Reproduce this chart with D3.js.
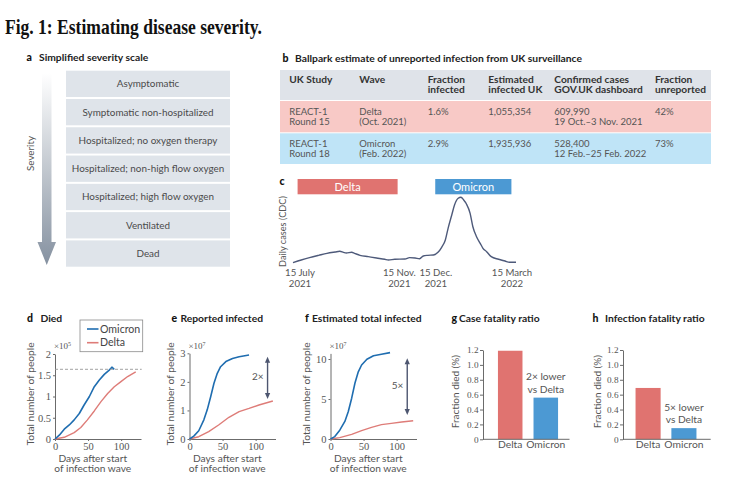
<!DOCTYPE html>
<html><head><meta charset="utf-8">
<script src="https://cdn.jsdelivr.net/npm/d3@7"></script>
<style>
body{margin:0;background:#fff}
svg{display:block}
text{font-family:Lato,"Open Sans",sans-serif}
</style></head>
<body><svg id="fig" width="742" height="487"></svg>
<script>
// ---------------- DATA ----------------
const severityLevels = ["Asymptomatic","Symptomatic non-hospitalized","Hospitalized; no oxygen therapy","Hospitalized; non-high flow oxygen","Hospitalized; high flow oxygen","Ventilated","Dead"];

const tableHeaders = [["UK Study"],["Wave"],["Fraction","infected"],["Estimated","infected UK"],["Confirmed cases","GOV.UK dashboard"],["Fraction","unreported"]];
const tableDelta   = [["REACT-1","Round 15"],["Delta","(Oct. 2021)"],["1.6%"],["1,055,354"],["609,990","19 Oct.–3 Nov. 2021"],["42%"]];
const tableOmicron = [["REACT-1","Round 18"],["Omicron","(Feb. 2022)"],["2.9%"],["1,935,936"],["528,400","12 Feb.–25 Feb. 2022"],["73%"]];

// panel c: US daily cases (thousands, 7-day avg, CDC)
const casesDates = ["2021-07-15","2021-07-24","2021-08-02","2021-08-12","2021-08-21","2021-08-30","2021-09-04","2021-09-08","2021-09-11","2021-09-17","2021-09-20","2021-09-26","2021-10-05","2021-10-14","2021-10-23","2021-10-27","2021-11-03","2021-11-14","2021-11-19","2021-11-25","2021-11-30","2021-12-04","2021-12-09","2021-12-15","2021-12-20","2021-12-24","2021-12-28","2021-12-31","2022-01-04","2022-01-07","2022-01-11","2022-01-14","2022-01-17","2022-01-20","2022-01-24","2022-01-27","2022-01-31","2022-02-04","2022-02-07","2022-02-11","2022-02-16","2022-02-24","2022-03-03","2022-03-08","2022-03-15"];
const casesValues = [25,57,85,113,137,153,161,149,141,149,137,113,97,81,66,57,66,69,85,81,73,105,113,117,149,209,296,435,594,713,793,805,773,725,614,454,335,256,197,156,97,66,45,30,30];
const waveNames = ["Delta","Omicron"];
const waveStart = ["2021-07-20","2021-12-17"];
const waveEnd   = ["2021-11-06","2022-03-10"];
const casesTickDates  = ["2021-07-15","2021-11-15","2021-12-15","2022-03-15"];
const casesTickLabels = [["15 July","2021"],["15 Nov.","2021"],["15 Dec.","2021"],["15 March","2022"]];

// panel d: died (x10^5)
const diedOmicronDays   = [0,6.5,14,21.6,29,36.7,44,52,59.4,67,74.5,82,86,89.6];
const diedOmicronValues = [0,0.09,0.23,0.33,0.45,0.60,0.80,1.00,1.23,1.39,1.52,1.62,1.69,1.64];
const diedDeltaDays     = [0,14,29,39,49,59.4,69.5,79.6,89.6,99.7,109.8,122];
const diedDeltaValues   = [0,0.04,0.15,0.27,0.45,0.66,0.88,1.07,1.23,1.35,1.47,1.58];
const diedReference = 1.64;

// panel e: reported infected (x10^7)
const reportedOmicronDays   = [0,6.5,14,21.7,26.8,32,37,42,47,55,65,75,90];
const reportedOmicronValues = [0,0.10,0.29,0.67,1.02,1.48,1.95,2.30,2.53,2.71,2.82,2.88,2.94];
const reportedDeltaDays     = [0,14,29,44,59.6,75,90,105,126];
const reportedDeltaValues   = [0,0.08,0.26,0.49,0.76,0.96,1.07,1.19,1.33];
const reportedArrow = [2.88,1.40];

// panel f: estimated total infected (x10^7)
const totalOmicronDays   = [0,6.5,14,21.7,26.8,32,37,42,47,55,65,77,90];
const totalOmicronValues = [0,0.3,1.1,2.2,3.4,5.1,7.0,8.4,9.25,9.96,10.4,10.6,10.8];
const totalDeltaDays     = [0,14,32,47,62,77,92,107.6,125];
const totalDeltaValues   = [0,0.17,0.58,1.04,1.46,1.79,1.96,2.13,2.29];
const totalArrow = [10.09,3.0];

// panels g, h
const barCategories = ["Delta","Omicron"];
const caseFatality = [1.19,0.56];
const infectionFatality = [0.69,0.15];
const barTicks = [0,0.2,0.4,0.6,0.8,1.0,1.2];

// ---------------- STYLE ----------------
const C = {delta:"#e07370", omicron:"#4c99d3", deltaLine:"#de7c78", omicronLine:"#1f6db0",
  text:"#4a4a4a", dark:"#222", axis:"#6b6b6b", box:"#dfe4ea", head:"#dfe3e9",
  rowDelta:"#f8c9c6", rowOmicron:"#bfe4f7", casesLine:"#4e5a7a", arrow:"#4d5670"};
const SERIF = "'Liberation Serif','Times New Roman',serif";

const svg = d3.select("#fig");

// title
svg.append("text").attr("x",5).attr("y",34)
  .style("font-family","'Liberation Serif',serif").style("font-weight","bold").style("font-size","21px")
  .attr("fill","#111").attr("textLength",257).attr("lengthAdjust","spacingAndGlyphs")
  .text("Fig. 1: Estimating disease severity.");

function panelLabel(letter, lx, tx, y, title){
  svg.append("text").attr("x",lx).attr("y",y).attr("fill","#111")
    .style("font-weight","900").style("font-size","10.5px").text(letter);
  svg.append("text").attr("x",tx).attr("y",y).attr("fill",C.dark)
    .style("font-weight","bold").style("font-size","10.3px").text(title);
}
// multi-line text as a single text element with tspans
function multiText(x, y, lines, lh, anchor, size, fill, weight){
  const t = svg.append("text").attr("x",x).attr("y",y).attr("text-anchor",anchor)
    .attr("fill",fill).style("font-size",size).style("font-weight",weight||"normal");
  lines.forEach((l,j)=>t.append("tspan").attr("x",x).attr("dy",j===0?0:lh).text(l));
  return t;
}

// ---------------- PANEL A ----------------
panelLabel("a",26.5,39,61,"Simplified severity scale");
const yA = d3.scaleBand().domain(severityLevels).range([70.7,266.7]).paddingInner(0.07);
svg.append("g").selectAll("rect").data(severityLevels).join("rect")
  .attr("x",66).attr("width",164).attr("y",d=>yA(d)).attr("height",yA.bandwidth()).attr("fill",C.box);
svg.append("g").selectAll("text").data(severityLevels).join("text")
  .attr("x",148).attr("y",d=>yA(d)+yA.bandwidth()/2+3.5).attr("text-anchor","middle")
  .attr("fill",C.text).style("font-size","9.9px").text(d=>d);
const defs = svg.append("defs");
const grad = defs.append("linearGradient").attr("id","sevGrad").attr("gradientUnits","userSpaceOnUse")
  .attr("x1",0).attr("y1",73).attr("x2",0).attr("y2",265);
grad.append("stop").attr("offset",0).attr("stop-color","#ffffff");
grad.append("stop").attr("offset",1).attr("stop-color","#8591a0");
svg.append("path").attr("d","M42,73 L51.5,73 L51.5,242 L56,242 L46.75,265 L37.5,242 L42,242 Z").attr("fill","url(#sevGrad)");
svg.append("text").attr("transform","translate(34,153.5) rotate(-90)").attr("text-anchor","middle")
  .attr("fill","#555").style("font-size","9.8px").text("Severity");

// ---------------- PANEL B ----------------
panelLabel("b",282.5,295,62,"Ballpark estimate of unreported infection from UK surveillance");
const colX = [289.3,359.3,427.7,488.3,554.3,655];
const rowsB = [{cells:tableHeaders,top:70,h:30,fill:C.head,bold:true},
               {cells:tableDelta,top:101,h:31.3,fill:C.rowDelta,bold:false},
               {cells:tableOmicron,top:133.3,h:30.7,fill:C.rowOmicron,bold:false}];
rowsB.forEach(r=>{
  svg.append("rect").attr("x",280).attr("y",r.top).attr("width",431).attr("height",r.h).attr("fill",r.fill);
  r.cells.forEach((lines,i)=>{
    multiText(colX[i], r.top+(r.bold?12.7:13.5), lines, 10.6, "start",
      r.bold?"10.2px":"9.5px", r.bold?"#333":"#555", r.bold?"bold":"normal");
  });
});

// ---------------- PANEL C ----------------
svg.append("text").attr("x",279.5).attr("y",185).attr("fill","#111").style("font-weight","900").style("font-size","10.5px").text("c");
const parse = d3.timeParse("%Y-%m-%d");
const xC = d3.scaleTime().domain([parse("2021-07-15"),parse("2022-03-15")]).range([293,516]);
const yC = d3.scaleLinear().domain([0,805]).range([264.8,197.3]);
waveNames.forEach((w,i)=>{
  const x0=xC(parse(waveStart[i])), x1=xC(parse(waveEnd[i]));
  svg.append("rect").attr("x",x0).attr("y",179).attr("width",x1-x0).attr("height",15.3)
    .attr("fill",i===0?C.delta:C.omicron);
  svg.append("text").attr("x",(x0+x1)/2).attr("y",190.8).attr("text-anchor","middle")
    .attr("fill","#fff").style("font-size","11px").text(w);
});
const casesData = casesDates.map((d,i)=>({date:parse(d),v:casesValues[i]}));
svg.append("path").datum(casesData).attr("fill","none").attr("stroke",C.casesLine).attr("stroke-width",1.4)
  .attr("d",d3.line().x(d=>xC(d.date)).y(d=>yC(d.v)).curve(d3.curveMonotoneX));
const tickNudge = [7,-6.5,2.5,-4]; // hand-placed label offsets as in the original
casesTickDates.forEach((d,i)=>{
  multiText(xC(parse(d))+tickNudge[i], 276, casesTickLabels[i], 11.3, "middle", "9.6px", "#555");
});
svg.append("text").attr("transform","translate(286,231.5) rotate(-90)").attr("text-anchor","middle")
  .attr("fill","#555").style("font-size","9.2px").text("Daily cases (CDC)");

// ---------------- PANELS D, E, F ----------------
function styleAxis(g){
  g.select(".domain").attr("stroke",C.axis);
  g.selectAll(".tick line").attr("stroke",C.axis);
  g.selectAll(".tick text").attr("fill","#555").style("font-family",SERIF).style("font-size","10.5px");
}
function linePanel(o){
  const x = d3.scaleLinear().domain([0,130]).range(o.xRange);
  const y = d3.scaleLinear().domain(o.yDomain).range([439,o.yTop]);
  const gx = svg.append("g").attr("transform",`translate(0,439)`)
    .call(d3.axisBottom(x).tickValues([0,50,100]).tickSize(2).tickPadding(2).tickSizeOuter(0));
  styleAxis(gx);
  const gy = svg.append("g").attr("transform",`translate(${o.xRange[0]},0)`)
    .call(d3.axisLeft(y).tickValues(o.yTicks).tickFormat(d=>String(d)).tickSize(2).tickPadding(2).tickSizeOuter(0));
  styleAxis(gy);
  const ex = svg.append("text").attr("x",o.xRange[0]-1).attr("y",349).attr("fill","#555")
    .style("font-family",SERIF).style("font-size","9px");
  ex.append("tspan").text("×10");
  ex.append("tspan").attr("dy",-3.5).style("font-size","6px").text(o.exp);
  const line = d3.line().x(d=>x(d[0])).y(d=>y(d[1]));
  o.series.forEach(s=>{
    svg.append("path").datum(s.days.map((d,i)=>[d,s.values[i]])).attr("fill","none")
      .attr("stroke",s.color).attr("stroke-width",s.w).attr("stroke-linejoin","round").attr("d",line);
  });
  svg.append("text").attr("transform",`translate(${o.labelX},394) rotate(-90)`).attr("text-anchor","middle")
    .attr("fill","#555").style("font-size","10.2px").text("Total number of people");
  multiText(o.xRange[0]+0.662*57, 461.7, ["Days after start","of infection wave"], 10.6, "middle", "10.2px", "#555");
  return {x,y};
}
function doubleArrow(x, y1, y2, label){
  const g = svg.append("g");
  g.append("line").attr("x1",x).attr("x2",x).attr("y1",y1+4).attr("y2",y2-4).attr("stroke",C.arrow).attr("stroke-width",1.4);
  g.append("path").attr("d",`M${x},${y1} L${x-2.6},${y1+6} L${x+2.6},${y1+6} Z`).attr("fill",C.arrow);
  g.append("path").attr("d",`M${x},${y2} L${x-2.6},${y2-6} L${x+2.6},${y2-6} Z`).attr("fill",C.arrow);
  g.append("text").attr("x",x-4).attr("y",(y1+y2)/2+2.5).attr("text-anchor","end")
    .attr("fill","#555").style("font-size","10px").text(label);
}

// d
panelLabel("d",27,40.5,322.3,"Died");
const pd = linePanel({xRange:[55,141],yDomain:[0,2],yTop:354,yTicks:[0,0.5,1,1.5,2],exp:"5",labelX:34,
  series:[{days:diedDeltaDays,values:diedDeltaValues,color:C.deltaLine,w:1.4},
          {days:diedOmicronDays,values:diedOmicronValues,color:C.omicronLine,w:1.6}]});
svg.append("line").attr("x1",55).attr("x2",141.7).attr("y1",pd.y(diedReference)).attr("y2",pd.y(diedReference))
  .attr("stroke","#999").attr("stroke-width",0.9).attr("stroke-dasharray","3,2");
svg.append("rect").attr("x",80).attr("y",320).attr("width",62.7).attr("height",31.7)
  .attr("fill","#fff").attr("stroke","#8a8a8a").attr("stroke-width",0.8);
[["Omicron",C.omicronLine,329],["Delta",C.deltaLine,342.7]].forEach(([t,c,y])=>{
  svg.append("line").attr("x1",87).attr("x2",98.5).attr("y1",y).attr("y2",y).attr("stroke",c).attr("stroke-width",1.6);
  svg.append("text").attr("x",100).attr("y",y+3.5).attr("fill","#444").style("font-size","10.6px").text(t);
});

// e
panelLabel("e",171.5,180.5,321.7,"Reported infected");
const pe = linePanel({xRange:[189.5,275.5],yDomain:[0,3],yTop:353.3,yTicks:[0,1,2,3],exp:"7",labelX:174,
  series:[{days:reportedDeltaDays,values:reportedDeltaValues,color:C.deltaLine,w:1.4},
          {days:reportedOmicronDays,values:reportedOmicronValues,color:C.omicronLine,w:1.6}]});
doubleArrow(pe.x(118), pe.y(reportedArrow[0]), pe.y(reportedArrow[1]), "2×");

// f
panelLabel("f",305,312,321.7,"Estimated total infected");
const pf = linePanel({xRange:[330.5,416.5],yDomain:[0,10.7],yTop:353.4,yTicks:[0,5,10],exp:"7",labelX:309.5,
  series:[{days:totalDeltaDays,values:totalDeltaValues,color:C.deltaLine,w:1.4},
          {days:totalOmicronDays,values:totalOmicronValues,color:C.omicronLine,w:1.6}]});
doubleArrow(pf.x(116), pf.y(totalArrow[0]), pf.y(totalArrow[1]), "5×");

// ---------------- PANELS G, H ----------------
function barPanel(o){
  const x = d3.scaleBand().domain(barCategories).range(o.range).paddingInner(o.pi).paddingOuter(o.po);
  const y = d3.scaleLinear().domain([0,1.2]).range([439.3,350]);
  svg.append("g").selectAll("rect").data(o.values).join("rect")
    .attr("x",(d,i)=>x(barCategories[i])).attr("width",x.bandwidth())
    .attr("y",d=>y(d)).attr("height",d=>y(0)-y(d))
    .attr("fill",(d,i)=>i===0?C.delta:C.omicron);
  const gy = svg.append("g").attr("transform",`translate(${o.range[0]},0)`)
    .call(d3.axisLeft(y).tickValues(barTicks).tickFormat(d=>d===0?"0":d.toFixed(1)).tickSize(3).tickPadding(1.5).tickSizeOuter(0));
  styleAxis(gy);
  gy.selectAll(".tick text").style("font-size","9.2px");
  svg.append("line").attr("x1",o.range[0]).attr("x2",o.axisEnd).attr("y1",439.3).attr("y2",439.3).attr("stroke",C.axis);
  barCategories.forEach(c=>{
    svg.append("text").attr("x",x(c)+x.bandwidth()/2).attr("y",448.3).attr("text-anchor","middle")
      .attr("fill","#555").style("font-size","10.3px").text(c);
  });
  const oc = x("Omicron")+x.bandwidth()/2, top = y(o.values[1]);
  multiText(oc, top-17.2, [o.note,"vs Delta"], 12.1, "middle", "10.2px", "#555");
  svg.append("text").attr("transform",`translate(${o.labelX},391.7) rotate(-90)`).attr("text-anchor","middle")
    .attr("fill","#555").style("font-size","10px").text("Fraction died (%)");
}
panelLabel("g",451.5,459,321.7,"Case fatality ratio");
barPanel({values:caseFatality,range:[483,573],pi:0.31,po:0.42,axisEnd:569.5,note:"2× lower",labelX:459});
panelLabel("h",592.5,605,321.7,"Infection fatality ratio");
barPanel({values:infectionFatality,range:[623,709],pi:0.3,po:0.35,axisEnd:710.7,note:"5× lower",labelX:601});
</script></body></html>
